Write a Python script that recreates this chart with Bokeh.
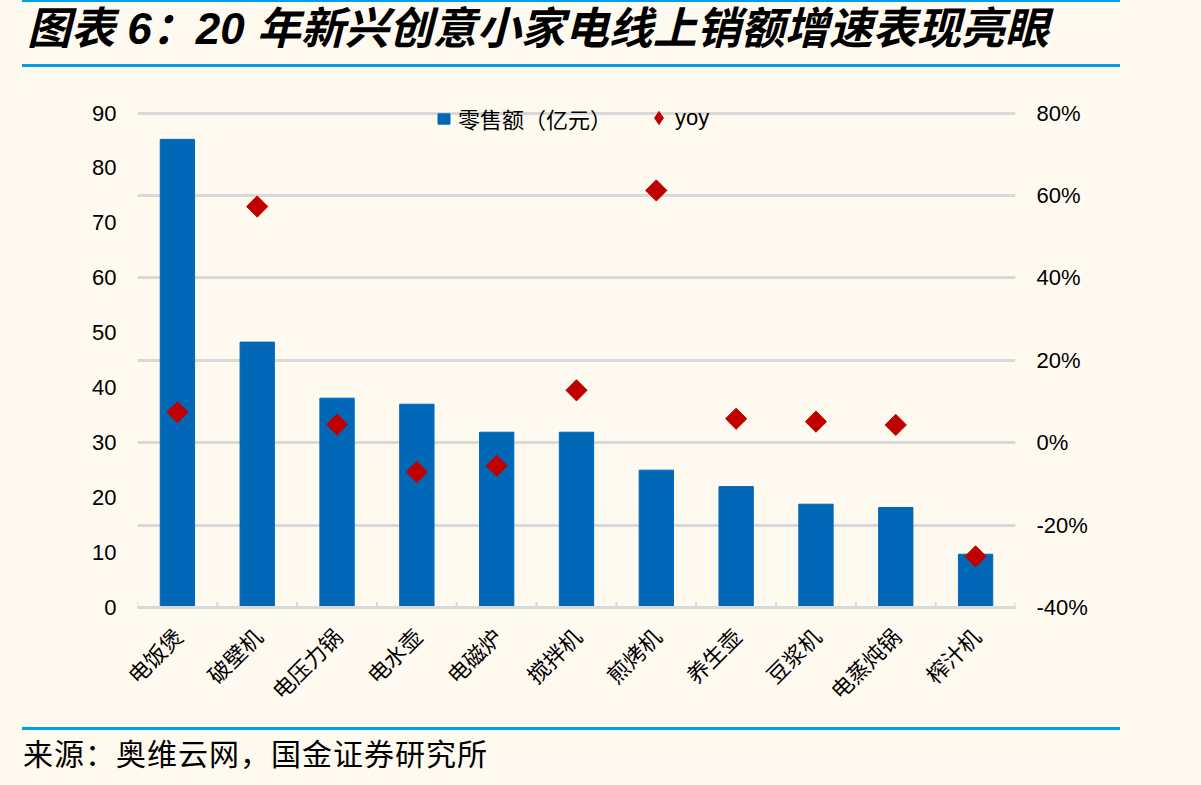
import math
from bokeh.plotting import figure
from bokeh.layouts import column
from bokeh.models import (Range1d, FactorRange, LinearAxis, Grid, FixedTicker, PrintfTickFormatter,
                          Legend, LegendItem, ColumnDataSource, Div)
from bokeh.transform import dodge
from bokeh.embed import file_html
from bokeh.resources import INLINE

# ---------------- data ----------------
categories = ["电饭煲", "破壁机", "电压力锅", "电水壶", "电磁炉", "搅拌机",
              "煎烤机", "养生壶", "豆浆机", "电蒸炖锅", "榨汁机"]
sales = [85.2, 48.3, 38.1, 37.0, 31.9, 31.9, 25.0, 22.0, 18.8, 18.2, 9.7]      # 零售额（亿元）
yoy = [7.4, 57.3, 4.4, -7.1, -5.6, 12.7, 61.2, 5.8, 5.1, 4.3, -27.6]            # yoy, %
left_ticks = [0, 10, 20, 30, 40, 50, 60, 70, 80, 90]
right_ticks = [-40, -20, 0, 20, 40, 60, 80]
legend_labels = ["零售额（亿元）", "yoy"]
title_text = "图表 6：20 年新兴创意小家电线上销额增速表现亮眼"
source_text = "来源：奥维云网，国金证券研究所"

# ---------------- style ----------------
BG = "#FFFAF0"
BAR = "#0068B7"
RED = "#C00000"
GRID = "#D9D9D9"
RULE = "#00A0E9"
LATIN = "Liberation Sans, Noto Sans CJK SC"
CJK = "Noto Sans CJK SC"

# headroom above the top gridline (frame starts 17.5 px above it)
left_top = left_ticks[-1] + 17.5 / (494.5 / (left_ticks[-1] - left_ticks[0]))
right_top = right_ticks[-1] + 17.5 / (494.5 / (right_ticks[-1] - right_ticks[0]))

src = ColumnDataSource(dict(cat=categories, sales=sales, yoy=yoy))
last_src = ColumnDataSource(dict(cat=categories[-1:]))

p = figure(width=1201, height=657,
           x_range=FactorRange(*categories, range_padding=0),
           y_range=Range1d(left_ticks[0], left_top),
           output_backend="svg", toolbar_location=None,
           min_border_left=137, min_border_right=186,
           min_border_top=25, min_border_bottom=120,
           background_fill_color=BG, border_fill_color=BG,
           outline_line_color=None, margin=0)
p.extra_y_ranges = {"yoy": Range1d(right_ticks[0], right_top)}

p.xgrid.visible = False
p.ygrid.visible = False

right_axis = LinearAxis(y_range_name="yoy", ticker=FixedTicker(ticks=right_ticks),
                        formatter=PrintfTickFormatter(format="%d%%"))
p.add_layout(right_axis, "right")
p.add_layout(Grid(dimension=1, ticker=right_axis.ticker, y_range_name="yoy",
                  grid_line_color=GRID, grid_line_width=3), "center")

for ax in (p.yaxis[0], right_axis):
    ax.axis_line_color = None
    ax.major_tick_line_color = None
    ax.minor_tick_line_color = None
    ax.major_tick_out = 0
    ax.major_tick_in = 0
    ax.minor_tick_out = 0
    ax.major_label_text_font = LATIN
    ax.major_label_text_font_size = "22px"
    ax.major_label_text_color = "#000000"
    ax.major_label_standoff = 21
p.yaxis[0].ticker = FixedTicker(ticks=left_ticks)

xa = p.xaxis[0]
xa.axis_line_color = GRID
xa.axis_line_width = 3
xa.major_tick_line_color = None
xa.major_tick_out = 0
xa.major_tick_in = 0
xa.major_label_orientation = math.pi / 4
xa.major_label_text_font = CJK
xa.major_label_text_font_size = "22px"
xa.major_label_text_color = "#000000"
xa.major_label_standoff = 24

# category boundary ticks on the x axis
p.segment(x0=dodge("cat", -0.5, range=p.x_range), x1=dodge("cat", -0.5, range=p.x_range),
          y0=0, y1=1, source=src, line_color=GRID, line_width=2)
p.segment(x0=dodge("cat", 0.5, range=p.x_range), x1=dodge("cat", 0.5, range=p.x_range),
          y0=0, y1=1, source=last_src, line_color=GRID, line_width=2)

bars = p.vbar(x="cat", top="sales", width=0.43, source=src,
              fill_color=BAR, line_color=BAR)
pts = p.scatter(x="cat", y="yoy", y_range_name="yoy", source=src, marker="square",
                angle=math.pi / 4, size=15, fill_color=RED, line_color=RED)
# hidden legend proxy drawing the diamond symbol
proxy = p.scatter(x="cat", y="yoy", y_range_name="yoy", source=src, marker="diamond",
                  fill_color=RED, line_color=RED, visible=False)

common = dict(orientation="horizontal", background_fill_alpha=0, border_line_alpha=0,
              label_text_font=LATIN, label_text_font_size="22px",
              label_text_color="#000000", padding=0, margin=0, label_height=30,
              inactive_fill_alpha=0)
leg_a = Legend(items=[LegendItem(label=legend_labels[0], renderers=[bars])],
               location=(299, 473), glyph_width=15, glyph_height=13,
               label_standoff=7, **common)
leg_b = Legend(items=[LegendItem(label=legend_labels[1], renderers=[proxy])],
               location=(505, 473), glyph_width=33, glyph_height=33,
               label_standoff=0, **common)
p.add_layout(leg_a, "center")
p.add_layout(leg_b, "center")

head = Div(width=1201, height=70, margin=0, styles={"background-color": BG}, text=f"""
<div style="position:relative;width:1201px;height:70px;background:{BG};">
  <div style="position:absolute;left:22px;top:0px;width:1098px;height:2px;background:{RULE};"></div>
  <div style="position:absolute;left:27px;top:4px;line-height:49px;height:49px;white-space:nowrap;
       font-family:'Liberation Sans','Noto Sans CJK SC';font-weight:bold;font-style:italic;font-size:44px;color:#000;">{title_text}</div>
  <div style="position:absolute;left:22px;top:64px;width:1098px;height:3px;background:{RULE};"></div>
</div>""")

foot = Div(width=1201, height=58, margin=0, styles={"background-color": BG}, text=f"""
<div style="position:relative;width:1201px;height:58px;background:{BG};">
  <div style="position:absolute;left:22px;top:0px;width:1098px;height:3px;background:{RULE};"></div>
  <div style="position:absolute;left:23px;top:8px;line-height:34px;height:34px;white-space:nowrap;
       font-family:'Noto Sans CJK SC';font-size:30px;letter-spacing:1px;color:#000;">{source_text}</div>
</div>""")

layout = column(head, p, foot, spacing=0, margin=0, styles={"background-color": BG})
open("out.html", "w").write(file_html(layout, INLINE))
